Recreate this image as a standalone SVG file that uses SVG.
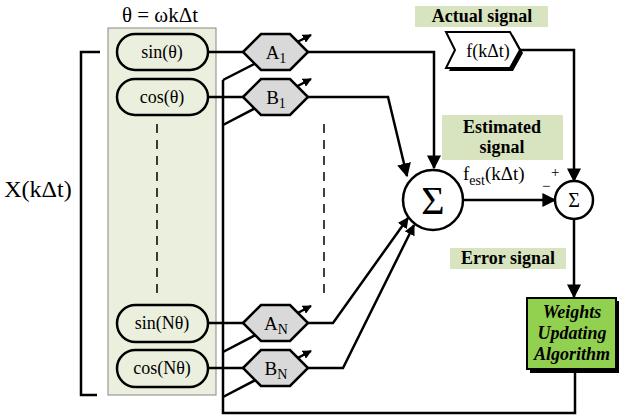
<svg xmlns="http://www.w3.org/2000/svg" width="619" height="416" viewBox="0 0 619 416" font-family="'Liberation Serif','Times New Roman',serif">
<defs>
<marker id="ah" viewBox="0 0 10 10" refX="9" refY="5" markerWidth="9" markerHeight="9" orient="auto" markerUnits="userSpaceOnUse">
<path d="M0,0 L10,5 L0,10 z" fill="#000"/>
</marker>
<marker id="ab" viewBox="0 0 10 10" refX="9" refY="5" markerWidth="14" markerHeight="14" orient="auto" markerUnits="userSpaceOnUse">
<path d="M0,0 L10,5 L0,10 z" fill="#000"/>
</marker>
<marker id="as" viewBox="0 0 10 10" refX="9" refY="5" markerWidth="11" markerHeight="11" orient="auto" markerUnits="userSpaceOnUse">
<path d="M0,0 L10,5 L0,10 z" fill="#000"/>
</marker>
</defs>
<style>
text{font-family:"Liberation Serif","Times New Roman",serif;fill:#000}
.ln{fill:none;stroke:#000;stroke-width:2.5}
.pill{fill:#ebefdd;stroke:#000;stroke-width:2.5}
.hex{fill:#d9d9d9;stroke:#000;stroke-width:2.5}
.lab{fill:#d8e4bf}
.bl{font-weight:bold;font-size:18px;text-anchor:middle}
.pt{font-size:18px;text-anchor:middle}
.hx{font-size:19px;text-anchor:middle}
.wu{font-size:18px;font-weight:bold;font-style:italic;text-anchor:middle}
.dash{stroke:#000;stroke-width:1.5;stroke-dasharray:9,7;fill:none}
</style>
<rect id="panel" x="108" y="28" width="108" height="367" fill="#ebefdd" stroke="#888" stroke-width="1"/>
<text x="160" y="22" font-size="21" text-anchor="middle">θ = ωkΔt</text>
<g id="bracket">
<path class="ln" d="M100,52 H81 V395 H97"/>
<text x="38" y="197" font-size="24" text-anchor="middle">X(kΔt)</text>
</g>
<line class="dash" x1="157" y1="124" x2="157" y2="297"/>
<line class="dash" x1="324" y1="124" x2="324" y2="297"/>
<g id="connectors">
<path class="ln" d="M208,52 H244"/>
<path class="ln" d="M208,97 H244"/>
<path class="ln" d="M208,323 H244"/>
<path class="ln" d="M208,368 H244"/>
<path class="ln" d="M223,80 V413 H575 V370"/>
<line class="ln" x1="223" y1="80" x2="311" y2="35" marker-end="url(#ah)"/>
<line class="ln" x1="223" y1="125" x2="311" y2="79" marker-end="url(#ah)"/>
<line class="ln" x1="223" y1="352" x2="311" y2="306" marker-end="url(#ah)"/>
<line class="ln" x1="223" y1="397" x2="311" y2="351" marker-end="url(#ah)"/>
<path class="ln" d="M308,52 H434 V168" marker-end="url(#ab)"/>
<path class="ln" d="M308,97 H388 L407,176" marker-end="url(#ab)"/>
<path class="ln" d="M308,323 H333 L408,218" marker-end="url(#as)"/>
<path class="ln" d="M308,368 H343 L414,225" marker-end="url(#as)"/>
<path class="ln" d="M463,200 H555" marker-end="url(#ab)"/>
<path class="ln" d="M520,50 H574 V181" marker-end="url(#ab)"/>
<path class="ln" d="M574,219 V297" marker-end="url(#ab)"/>
</g>
<g id="sin1"><rect class="pill" x="117" y="34" width="91" height="36" rx="18"/><text class="pt" x="162" y="58">sin(θ)</text></g>
<g id="cos1"><rect class="pill" x="117" y="79" width="91" height="36" rx="18"/><text class="pt" x="162" y="103">cos(θ)</text></g>
<g id="sinN"><rect class="pill" x="117" y="305" width="91" height="37" rx="18.5"/><text class="pt" x="162" y="329">sin(Nθ)</text></g>
<g id="cosN"><rect class="pill" x="117" y="350" width="91" height="37" rx="18.5"/><text class="pt" x="162" y="374">cos(Nθ)</text></g>
<g id="A1"><polygon class="hex" points="243,52 261,34 290,34 308,52 290,70 261,70"/><text class="hx" x="276" y="59">A<tspan font-size="14" dy="4">1</tspan></text></g>
<g id="B1"><polygon class="hex" points="243,97 261,79 290,79 308,97 290,115 261,115"/><text class="hx" x="276" y="104">B<tspan font-size="14" dy="4">1</tspan></text></g>
<g id="AN"><polygon class="hex" points="243,323 261,305 290,305 308,323 290,341 261,341"/><text class="hx" x="276" y="330">A<tspan font-size="14" dy="4">N</tspan></text></g>
<g id="BN"><polygon class="hex" points="243,368 261,350 290,350 308,368 290,386 261,386"/><text class="hx" x="276" y="375">B<tspan font-size="14" dy="4">N</tspan></text></g>
<g id="sum1"><circle cx="433" cy="200" r="30" fill="#fff" stroke="#000" stroke-width="2.5"/><text x="433" y="214" font-size="40" text-anchor="middle">Σ</text></g>
<g id="sum2"><circle cx="574" cy="200" r="19" fill="#fff" stroke="#000" stroke-width="2.5"/><text x="574" y="207" font-size="20" text-anchor="middle">Σ</text></g>
<g id="actual">
<rect class="lab" x="415" y="6" width="133" height="21"/>
<text class="bl" x="482" y="22">Actual signal</text>
</g>
<g id="fk">
<polygon points="449,35 513,35 523,53 513,71 449,71 458,53" fill="#000"/>
<polygon points="446,32 510,32 520,50 510,68 446,68 455,50" fill="#fff" stroke="#000" stroke-width="2"/>
<text x="488" y="57" font-size="18" text-anchor="middle">f(kΔt)</text>
</g>
<g id="est">
<rect class="lab" x="442" y="115" width="121" height="45"/>
<text class="bl" x="502" y="133">Estimated</text>
<text class="bl" x="502" y="153">signal</text>
</g>
<text x="463" y="180" font-size="19">f<tspan font-size="14" dy="5">est</tspan><tspan dy="-5">(kΔt)</tspan></text>
<text x="551" y="177" font-size="15">+</text>
<text x="542" y="191" font-size="15">−</text>
<g id="err">
<rect class="lab" x="450" y="248" width="116" height="21"/>
<text class="bl" x="508" y="264">Error signal</text>
</g>
<g id="wua">
<rect x="530" y="301" width="89" height="72" fill="#000"/>
<rect x="527" y="298" width="89" height="71" fill="#92d050" stroke="#000" stroke-width="2"/>
<text class="wu" x="572" y="318">Weights</text>
<text class="wu" x="572" y="339">Updating</text>
<text class="wu" x="572" y="360">Algorithm</text>
</g>
</svg>
